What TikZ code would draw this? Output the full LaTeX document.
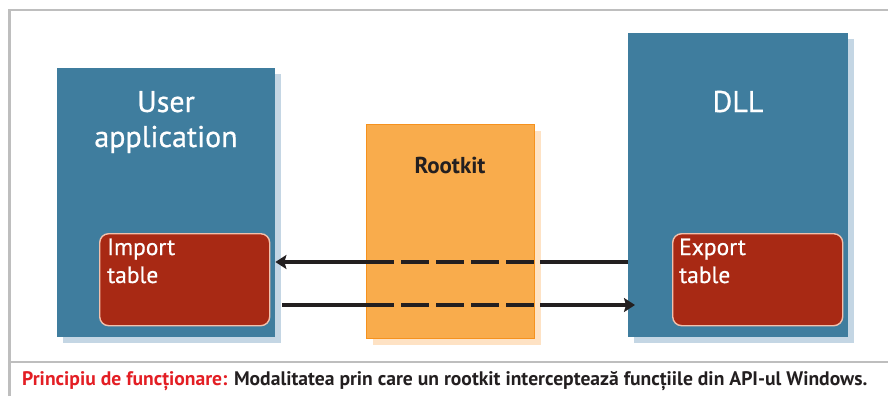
\documentclass[tikz,border=0pt]{standalone}
\usepackage{fontspec}
\setmainfont{PT Sans}
\newfontface\medfont{PT Sans}[FakeBold=0.6]
\usetikzlibrary{arrows.meta,shadows}
\definecolor{boxblue}{HTML}{3F7D9E}
\definecolor{shblue}{HTML}{C4D6E4}
\definecolor{tabred}{HTML}{A82914}
\definecolor{tabedge}{HTML}{F2C0AC}
\definecolor{rkfill}{HTML}{F9AC4C}
\definecolor{rkedge}{HTML}{F6921E}
\definecolor{shorange}{HTML}{FEE2C4}
\definecolor{capred}{HTML}{E31E24}
\definecolor{inkdark}{HTML}{231F20}
\definecolor{framegray}{HTML}{BEBEBE}
\begin{document}
\begin{tikzpicture}[x=1pt,y=-1pt,
  bigbox/.style={fill=boxblue, draw=none, anchor=north west, inner sep=0pt,
    drop shadow={shadow xshift=6pt, shadow yshift=-6pt, fill=shblue, opacity=1}},
  tabbox/.style={fill=tabred, draw=tabedge, line width=1.4pt, rounded corners=9pt,
    anchor=north west, inner sep=0pt, minimum width=170pt, minimum height=92pt},
  rkbox/.style={fill=rkfill, draw=rkedge, line width=1.4pt, anchor=north west, inner sep=0pt,
    drop shadow={shadow xshift=6pt, shadow yshift=-6pt, fill=shorange, opacity=1}},
  title/.style={text=white, font=\medfont\fontsize{30}{35}\selectfont, anchor=base, inner sep=0pt},
  tabtext/.style={text=white, font=\medfont\fontsize{23.5}{28}\selectfont, anchor=base west, inner sep=0pt},
  flow/.style={draw=inkdark, line width=4pt},
  tip/.style={-{Stealth[length=11pt,width=14pt,inset=2pt]}},
  frameline/.style={draw=framegray, line width=2.2pt}
]
\useasboundingbox (0,0) rectangle (888,396);
% frame
\draw[frameline] (9.5,396) -- (9.5,10) -- (888,10);
\draw[frameline] (9.5,362) -- (888,362);

% boxes
\node[bigbox, minimum width=218pt, minimum height=269pt] (app) at (57,68) {};
\node[bigbox, minimum width=220pt, minimum height=304pt] (dll) at (628,33) {};
\node[rkbox, minimum width=168pt, minimum height=214pt] (rk) at (366,124) {};
\node[tabbox] (imp) at (99,233) {};
\node[tabbox] (exp) at (672,233) {};

% texts
\node[title] (tUser) at (166,112) {User};
\node[title] (tAppl) at (166,147) {application};
\node[title] (tDll) at (738,112) {DLL};
\node[text=inkdark, font=\fontsize{23}{27}\bfseries\selectfont, anchor=base, inner sep=0pt] (tRk) at (450,173) {Rootkit};
\node[tabtext] (tImp1) at (107,255) {Import};
\node[tabtext] (tImp2) at (107,283) {table};
\node[tabtext] (tExp1) at (679,255) {Export};
\node[tabtext] (tExp2) at (679,283) {table};

% connector levels
\coordinate (yA) at (0,262);
\coordinate (yB) at (0,305);
\coordinate (rkE) at (540,0);
\coordinate (appSh) at (282,0);

% upper arrow: DLL -> user application
\draw[flow] (dll.west |- yA) -- (rkE |- yA);
\draw[flow, dash pattern=on 28pt off 7pt] (rk.west |- yA) -- (rkE |- yA);
\draw[flow, tip] (rk.west |- yA) -- (app.east |- yA);

% lower arrow: user application -> DLL
\draw[flow] (appSh |- yB) -- (rk.west |- yB);
\draw[flow, dash pattern=on 28pt off 7pt] (rk.west |- yB) -- (rkE |- yB);
\draw[flow, tip] (rkE |- yB) -- ([xshift=7pt]dll.west |- yB);

% caption
\node[anchor=base west, inner sep=0pt, font=\fontsize{19.6}{23}\bfseries\selectfont] (cap) at (22,385)
  {\textcolor{capred}{Principiu de funcționare:} \textcolor{inkdark}{Modalitatea prin care un rootkit interceptează funcțiile din API-ul Windows.}};
\end{tikzpicture}
\end{document}
